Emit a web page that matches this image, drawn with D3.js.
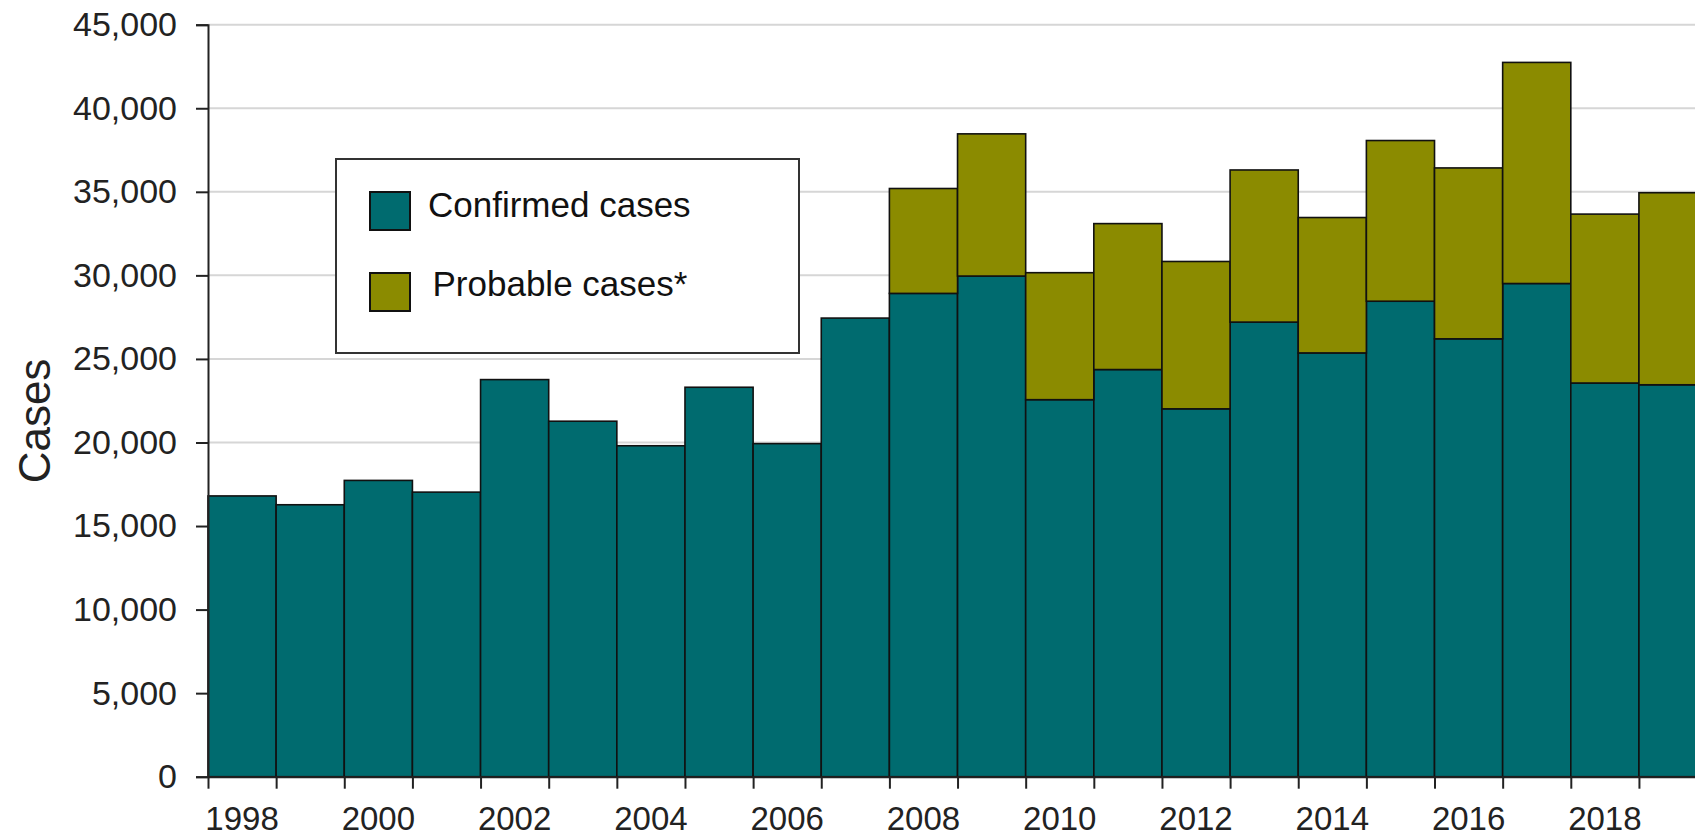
<!DOCTYPE html>
<html>
<head>
<meta charset="utf-8">
<script src="https://cdn.jsdelivr.net/npm/d3@7"></script>
<style>
  html, body { margin: 0; padding: 0; background: #fff; overflow: hidden; }
  svg { display: block; font-family: "Liberation Sans", Arial, sans-serif; }
</style>
</head>
<body>
<svg id="chart" width="1695" height="837"></svg>
<script>
// ---- data ----
const years = [1998, 1999, 2000, 2001, 2002, 2003, 2004, 2005, 2006, 2007, 2008,
               2009, 2010, 2011, 2012, 2013, 2014, 2015, 2016, 2017, 2018, 2019];
const confirmed = [16801, 16273, 17730, 17029, 23763, 21273, 19804, 23305, 19931, 27444, 28921,
                   29959, 22561, 24364, 22014, 27203, 25359, 28453, 26203, 29513, 23558, 23453];
const probable  = [0, 0, 0, 0, 0, 0, 0, 0, 0, 0, 6277,
                   8509, 7599, 8733, 8817, 9104, 8102, 9616, 10226, 13230, 10108, 11492];
const yTicks = [0, 5000, 10000, 15000, 20000, 25000, 30000, 35000, 40000, 45000];
const xLabelYears = [1998, 2000, 2002, 2004, 2006, 2008, 2010, 2012, 2014, 2016, 2018];
const seriesNames = ["Confirmed cases", "Probable cases*"];
const seriesColors = ["#006b6f", "#8b8b00"];

// ---- layout ----
const svg = d3.select("#chart");
const W = 1695, H = 837;
const x0 = 208, yTop = 24.7, yBottom = 776.7;
const barW = 68.14;

const x = d3.scaleBand().domain(years).range([x0, x0 + barW * years.length]).padding(0);
const y = d3.scaleLinear().domain([0, 45000]).range([yBottom, yTop]);

// gridlines
svg.append("g").selectAll("line").data(yTicks.filter(d => d > 0)).join("line")
  .attr("x1", x0).attr("x2", W)
  .attr("y1", d => y(d)).attr("y2", d => y(d))
  .attr("stroke", "#d6d6d6").attr("stroke-width", 2);

// stacked data
const rows = years.map((yr, i) => ({ year: yr, confirmed: confirmed[i], probable: probable[i] }));
const stack = d3.stack().keys(["confirmed", "probable"])(rows);

svg.append("g").selectAll("g").data(stack).join("g")
  .attr("fill", (d, i) => seriesColors[i])
  .selectAll("rect").data(d => d.filter(p => p[1] - p[0] > 0)).join("rect")
  .attr("x", d => x(d.data.year))
  .attr("width", x.bandwidth())
  .attr("y", d => y(d[1]))
  .attr("height", d => y(d[0]) - y(d[1]))
  .attr("stroke", "#111").attr("stroke-width", 1.6);

// y axis
const yAxis = d3.axisLeft(y).tickValues(yTicks).tickFormat(d3.format(",")).tickSize(12).tickPadding(19);
const gy = svg.append("g").attr("transform", `translate(${x0},0)`).call(yAxis);
gy.select(".domain").attr("stroke", "#222").attr("stroke-width", 2);
gy.selectAll(".tick line").attr("stroke", "#222").attr("stroke-width", 2);
gy.selectAll(".tick text").attr("font-size", 34).attr("fill", "#222")
  .attr("font-family", "Liberation Sans, Arial, sans-serif");

// x axis: tick marks at bar boundaries
const boundaries = years.map(yr => x(yr)).concat([x(years[years.length - 1]) + x.bandwidth()]);
const xb = d3.scaleLinear().domain([0, years.length]).range([x0, x0 + barW * years.length]);
const xAxis = d3.axisBottom(xb).tickValues(d3.range(0, years.length + 1)).tickFormat("").tickSize(12);
const gx = svg.append("g").attr("transform", `translate(0,${yBottom})`).call(xAxis);
gx.select(".domain").attr("stroke", "#222").attr("stroke-width", 2).attr("d", `M${x0},0.5H${W + 20}`);
gx.selectAll(".tick line").attr("stroke", "#222").attr("stroke-width", 2);

// x labels at band centers
svg.append("g").selectAll("text").data(xLabelYears).join("text")
  .attr("x", d => x(d) + x.bandwidth() / 2)
  .attr("y", 830)
  .attr("text-anchor", "middle")
  .attr("font-size", 33).attr("fill", "#222")
  .text(d => d);

// y axis title
svg.append("text")
  .attr("transform", `translate(50,421) rotate(-90)`)
  .attr("text-anchor", "middle")
  .attr("font-size", 44).attr("fill", "#222")
  .text("Cases");

// legend
const lg = svg.append("g");
lg.append("rect").attr("x", 336).attr("y", 159).attr("width", 463).attr("height", 194)
  .attr("fill", "#fff").attr("stroke", "#333").attr("stroke-width", 2);
const legendRows = [{ sy: 192, ty: 216.5, tx: 428 }, { sy: 273, ty: 296, tx: 432.5 }];
legendRows.forEach((r, i) => {
  lg.append("rect").attr("x", 370).attr("y", r.sy).attr("width", 40).attr("height", 38)
    .attr("fill", seriesColors[i]).attr("stroke", "#111").attr("stroke-width", 2);
  lg.append("text").attr("x", r.tx).attr("y", r.ty)
    .attr("font-size", 35).attr("fill", "#111").text(seriesNames[i]);
});
</script>
</body>
</html>
